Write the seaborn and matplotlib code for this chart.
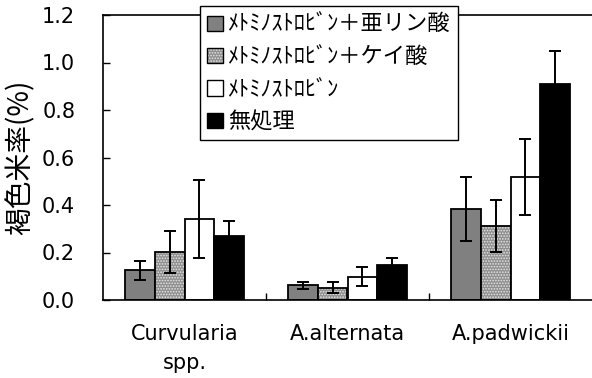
import matplotlib
matplotlib.use("Agg")
import matplotlib.pyplot as plt
from matplotlib.colors import to_rgba
from matplotlib.patches import Patch
import numpy as np
import pandas as pd
import seaborn as sns

# Browning rate of rice grains by pathogen and fungicide treatment
pathogens = ["Curvularia\nspp.", "A.alternata", "A.padwickii"]
treatments = ["ﾒﾄﾐﾉｽﾄﾛﾋﾞﾝ＋亜リン酸", "ﾒﾄﾐﾉｽﾄﾛﾋﾞﾝ＋ケイ酸", "ﾒﾄﾐﾉｽﾄﾛﾋﾞﾝ", "無処理"]

rate_phosphite = [0.125, 0.062, 0.385]
rate_silicate = [0.202, 0.052, 0.313]
rate_metominostrobin = [0.342, 0.097, 0.518]
rate_untreated = [0.270, 0.148, 0.908]

err_phosphite = [0.040, 0.015, 0.135]
err_silicate = [0.090, 0.024, 0.110]
err_metominostrobin = [0.165, 0.040, 0.160]
err_untreated = [0.063, 0.030, 0.140]

yticks = [0.0, 0.2, 0.4, 0.6, 0.8, 1.0, 1.2]

rates = [rate_phosphite, rate_silicate, rate_metominostrobin, rate_untreated]
errs = [err_phosphite, err_silicate, err_metominostrobin, err_untreated]

df = pd.DataFrame(
    [(p, t, v) for t, vals in zip(treatments, rates) for p, v in zip(pathogens, vals)],
    columns=["pathogen", "treatment", "rate"],
)

sns.set_theme(style="white")
plt.rcParams["font.family"] = ["DejaVu Sans"]
plt.rcParams["hatch.linewidth"] = 0.8
for key in ["text.color", "axes.labelcolor", "xtick.color", "ytick.color"]:
    plt.rcParams[key] = "black"
jp_font = ["Noto Sans CJK JP", "DejaVu Sans"]

face_colors = ["#808080", "#8e8e8e", "#ffffff", "#000000"]
hatches = [None, "......", None, None]
stipple_color = to_rgba("#e6e6e6")


def stipple(patch, hatch):
    # light dots on a grey ground, while the outline stays black
    if hatch:
        patch.set_hatch(hatch)
        patch._hatch_color = stipple_color


fig = plt.figure(figsize=(5.92, 3.78), dpi=100)
ax = fig.add_axes([103 / 592, 78 / 378, 489 / 592, 285 / 378])

sns.barplot(
    data=df, x="pathogen", y="rate", hue="treatment",
    order=pathogens, hue_order=treatments, palette=face_colors,
    width=0.73, edgecolor="black", linewidth=1.3, errorbar=None,
    legend=False, ax=ax, saturation=1,
)

for container, hatch, err in zip(ax.containers, hatches, errs):
    xs, ys = [], []
    for bar in container:
        stipple(bar, hatch)
        xs.append(bar.get_x() + bar.get_width() / 2)
        ys.append(bar.get_height())
    ax.errorbar(xs, ys, yerr=err, fmt="none", ecolor="black",
                elinewidth=1.4, capsize=4.3, capthick=1.4, zorder=5)

ax.set_ylim(0, 1.2)
ax.set_xlim(-0.5, 2.5)
ax.set_yticks(yticks)
ax.set_yticklabels([f"{v:.1f}" for v in yticks])
ax.set_xticks(range(len(pathogens)))
ax.set_xticklabels(pathogens, fontsize=15, linespacing=1.6)
ax.set_xticks([0.5, 1.5], minor=True)
ax.tick_params(axis="x", which="major", length=0, pad=17)
ax.tick_params(axis="x", which="minor", direction="in", length=5,
               width=1, color="black", bottom=True)
ax.tick_params(axis="y", direction="in", length=5, width=1, color="black",
               left=True, labelsize=15, pad=20)
ax.set_xlabel("")
ax.set_ylabel("褐色米率(%)", fontsize=20, family=jp_font)
ax.yaxis.set_label_coords(-0.138, 0.5)

for side in ["left", "bottom", "top"]:
    ax.spines[side].set_color("black")
    ax.spines[side].set_linewidth(1.2)
ax.spines["right"].set_visible(False)

handles = []
for c, h in zip(face_colors, hatches):
    p = Patch(facecolor=c, edgecolor="black", linewidth=1.0)
    stipple(p, h)
    handles.append(p)
leg = fig.legend(
    handles, treatments, loc="upper left", bbox_to_anchor=(200 / 592, 1 - 6 / 378),
    bbox_transform=fig.transFigure, prop={"family": jp_font, "size": 16},
    frameon=True, fancybox=False, framealpha=1, edgecolor="black",
    handlelength=0.7, handleheight=0.7, handletextpad=0.25,
    labelspacing=0.42, borderpad=0.32, borderaxespad=0,
)
leg.get_frame().set_linewidth(1.0)
leg.set_zorder(10)

fig.savefig("out.png", dpi=100)
